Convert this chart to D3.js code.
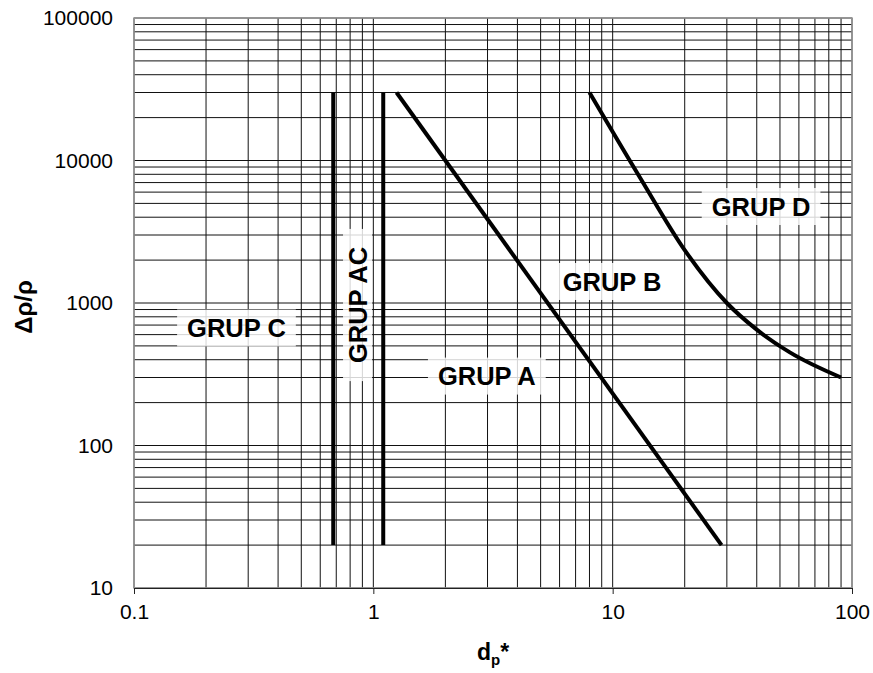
<!DOCTYPE html>
<html>
<head>
<meta charset="utf-8">
<script src="https://cdn.jsdelivr.net/npm/d3@7"></script>
<style>
  body { margin: 0; background: #fff; }
  svg { display: block; font-family: "Liberation Sans", Arial, sans-serif; }
</style>
</head>
<body>
<svg id="chart" width="873" height="673"></svg>
<script>
// tick labels
const xTickValues = [0.1, 1, 10, 100];
const xTickLabels = ["0.1", "1", "10", "100"];
const yTickValues = [10, 100, 1000, 10000, 100000];
const yTickLabels = ["10", "100", "1000", "10000", "100000"];

// group boundaries [dp*, delta rho / rho]
const boundaryC_AC = [[0.68, 20], [0.68, 30000]];
const boundaryAC_A = [[1.1, 20], [1.1, 30000]];
const boundaryA_B = [[1.25, 30000], [28.5, 20]];
const boundaryB_D = [[8, 30000], [13, 7600], [20, 2350], [30, 1000], [40, 650], [55, 450], [90, 300]];

// region labels, anchored in data units
const groupNames = ["GRUP C", "GRUP AC", "GRUP A", "GRUP B", "GRUP D"];
const groupAnchors = [[0.268, 668], [0.859, 968], [2.98, 307], [9.94, 1416], [41.7, 4755]];
const groupRotated = [false, true, false, false, false];

const svg = d3.select("#chart");
const margin = { top: 18, right: 21, bottom: 85, left: 134 };
const W = 873, H = 673;

const x = d3.scaleLog().domain([0.1, 100]).range([margin.left, W - margin.right]);
const y = d3.scaleLog().domain([10, 100000]).range([H - margin.bottom, margin.top]);

const x0 = x.range()[0], x1 = x.range()[1];
const y0 = y.range()[0], y1 = y.range()[1];

// grid (major + minor)
const grid = svg.append("g").attr("stroke", "#111").attr("stroke-width", 1);
grid.selectAll(".gx")
  .data(x.ticks())
  .enter()
  .append("line")
  .attr("x1", (d) => x(d)).attr("x2", (d) => x(d))
  .attr("y1", y1).attr("y2", y0);
grid.selectAll(".gy")
  .data(y.ticks())
  .enter()
  .append("line")
  .attr("x1", x0).attr("x2", x1)
  .attr("y1", (d) => y(d)).attr("y2", (d) => y(d));

// plot frame
svg.append("rect")
  .attr("x", x0).attr("y", y1)
  .attr("width", x1 - x0).attr("height", y0 - y1)
  .attr("fill", "none").attr("stroke", "#999").attr("stroke-width", 1.5);

// bottom axis
const xAxis = d3.axisBottom(x)
  .tickValues(xTickValues)
  .tickFormat((d, i) => xTickLabels[i])
  .tickSize(6)
  .tickSizeOuter(0)
  .tickPadding(10);
const gx = svg.append("g").attr("transform", `translate(0,${y0})`).call(xAxis);
gx.select(".domain").attr("stroke", "#222");
gx.selectAll(".tick line").attr("stroke", "#222");
gx.selectAll("text").attr("font-size", 21).attr("fill", "#000")
  .attr("font-family", "Liberation Sans, Arial, sans-serif");

// left axis labels (no tick marks)
const yAxis = d3.axisLeft(y)
  .tickValues(yTickValues)
  .tickFormat((d, i) => yTickLabels[i])
  .tickSize(0)
  .tickPadding(21);
const gy = svg.append("g").attr("transform", `translate(${x0},0)`).call(yAxis);
gy.select(".domain").remove();
gy.selectAll("text").attr("font-size", 21).attr("fill", "#000")
  .attr("font-family", "Liberation Sans, Arial, sans-serif");

// region labels with white boxes
const fs = 25.5;
groupNames.forEach((name, i) => {
  const [ax, ay] = groupAnchors[i];
  const rot = groupRotated[i];
  const g = svg.append("g")
    .attr("transform", `translate(${x(ax)},${y(ay)})` + (rot ? " rotate(-90)" : ""));
  const box = g.append("rect").attr("fill", "#fff").attr("fill-opacity", 0.82);
  const t = g.append("text")
    .attr("text-anchor", "middle")
    .attr("y", fs * 0.358)
    .attr("font-size", fs)
    .attr("font-weight", "bold")
    .text(name);
  const w = t.node().getComputedTextLength();
  const pad = rot ? 18 : 10;
  box.attr("x", -w / 2 - pad).attr("width", w + 2 * pad)
    .attr("y", rot ? -14.5 : -18.5).attr("height", rot ? 29 : 37);
});

// boundary lines
const line = d3.line()
  .x((d) => x(d[0]))
  .y((d) => y(d[1]));

[boundaryC_AC, boundaryAC_A, boundaryA_B].forEach((b) => {
  svg.append("path")
    .datum(b)
    .attr("fill", "none")
    .attr("stroke", "#000")
    .attr("stroke-width", 4)
    .attr("d", line);
});

svg.append("path")
  .datum(boundaryB_D)
  .attr("fill", "none")
  .attr("stroke", "#000")
  .attr("stroke-width", 4)
  .attr("d", line.curve(d3.curveMonotoneX));

// axis titles
const xt = svg.append("text")
  .attr("x", (x0 + x1) / 2)
  .attr("y", 660)
  .attr("text-anchor", "middle")
  .attr("font-size", 23)
  .attr("font-weight", "bold");
xt.append("tspan").text("d");
xt.append("tspan").attr("font-size", 15).attr("dy", 5).text("p");
xt.append("tspan").attr("dy", -5).text("*");

svg.append("text")
  .attr("transform", `translate(32,${(y0 + y1) / 2 + 4}) rotate(-90)`)
  .attr("text-anchor", "middle")
  .attr("font-size", 24)
  .attr("font-weight", "bold")
  .text("Δρ/ρ");
</script>
</body>
</html>
